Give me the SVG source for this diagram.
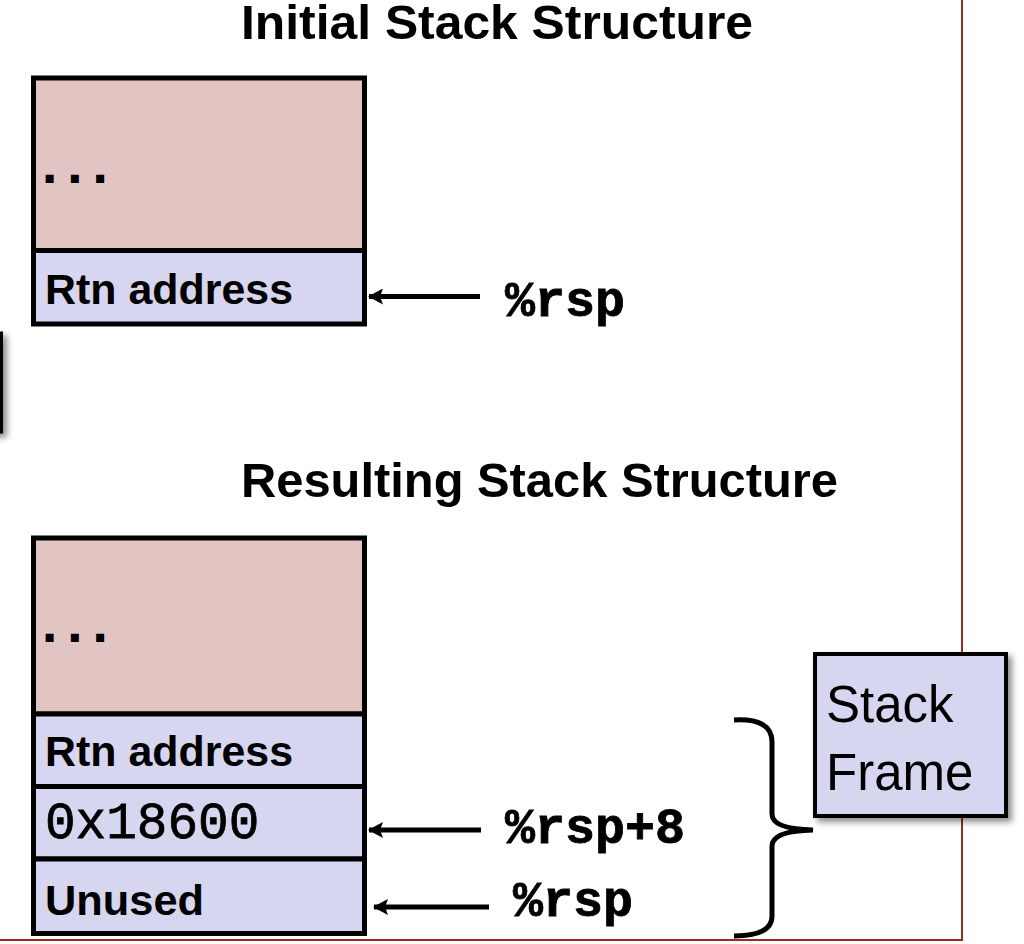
<svg xmlns="http://www.w3.org/2000/svg" width="1024" height="944" viewBox="0 0 1024 944">
<style>
.cell{stroke:#000;stroke-width:5}
.pink{fill:#E2C4C2}
.blue{fill:#D6D6F0}
.title{font-family:"Liberation Sans",Arial,sans-serif;font-weight:bold;font-size:49px;fill:#000}
.lbl{font-family:"Liberation Sans",Arial,sans-serif;font-weight:bold;font-size:42px;fill:#000}
.mono{font-family:"Liberation Mono","Courier New",monospace;font-size:51px;fill:#000;stroke:#000;stroke-width:0.8}
.reg{font-family:"Liberation Mono","Courier New",monospace;font-weight:bold;font-size:50px;fill:#000;stroke:#000;stroke-width:0.8}
.dots{font-family:"Liberation Mono","Courier New",monospace;font-weight:bold;font-size:42px;fill:#000;stroke:#000;stroke-width:2}
.sf{font-family:"Liberation Sans",Arial,sans-serif;font-size:51px;fill:#000}
.conn{stroke:#000;stroke-width:5;fill:none}
</style>
<defs>
<marker id="ah" markerUnits="userSpaceOnUse" markerWidth="16" markerHeight="16" refX="14" refY="8" orient="auto">
<path d="M0,0 L15,8 L0,16 L3,8 Z" fill="#000"/>
</marker>
<filter id="sh" x="-20%" y="-20%" width="140%" height="140%">
<feDropShadow dx="4" dy="4" stdDeviation="3" flood-color="#000" flood-opacity="0.45"/>
</filter>
</defs>
<rect width="1024" height="944" fill="#fff"/>
<g id="frame-border">
<path d="M962,0 L962,940 L0,940" fill="none" stroke="#9B2C1C" stroke-width="2"/>
</g>
<g id="left-edge-shape">
<rect x="-60" y="333" width="61.5" height="99" fill="#fff" stroke="#000" stroke-width="3" filter="url(#sh)"/>
</g>
<g id="title-initial">
<text class="title" x="241" y="39" textLength="512" lengthAdjust="spacingAndGlyphs">Initial Stack Structure</text>
</g>
<g id="title-resulting">
<text class="title" x="241" y="497" textLength="597" lengthAdjust="spacingAndGlyphs">Resulting Stack Structure</text>
</g>
<g id="init-stack">
<g id="init-dots">
<rect class="cell pink" x="33.5" y="78" width="331" height="172.5"/>
<text class="dots" x="37" y="182">...</text>
</g>
<g id="init-rtn">
<rect class="cell blue" x="33.5" y="250.5" width="331" height="73.5"/>
<text class="lbl" x="45" y="304" textLength="248" lengthAdjust="spacingAndGlyphs">Rtn address</text>
</g>
</g>
<g id="result-stack">
<g id="res-dots">
<rect class="cell pink" x="33.5" y="538" width="331" height="176"/>
<text class="dots" x="37" y="641">...</text>
</g>
<g id="res-rtn">
<rect class="cell blue" x="33.5" y="714" width="331" height="72.5"/>
<text class="lbl" x="45" y="766" textLength="248" lengthAdjust="spacingAndGlyphs">Rtn address</text>
</g>
<g id="res-addr">
<rect class="cell blue" x="33.5" y="786.5" width="331" height="72.5"/>
<text class="mono" x="45" y="838">0x18600</text>
</g>
<g id="res-unused">
<rect class="cell blue" x="33.5" y="859" width="331" height="74.5"/>
<text class="lbl" x="45" y="915" textLength="159" lengthAdjust="spacingAndGlyphs">Unused</text>
</g>
</g>
<g id="label-rsp-top">
<text class="reg" x="505" y="316">%rsp</text>
</g>
<g id="label-rsp8">
<text class="reg" x="505" y="843">%rsp+8</text>
</g>
<g id="label-rsp-bottom">
<text class="reg" x="513" y="916">%rsp</text>
</g>
<g id="stack-frame">
<rect x="815" y="654" width="191" height="162" fill="#D6D6F0" stroke="#000" stroke-width="4" filter="url(#sh)"/>
<text class="sf" x="826" y="722">Stack</text>
<text class="sf" x="826" y="790">Frame</text>
</g>
<g id="connectors">
<path class="conn" d="M480,296.5 L369,296.5" marker-end="url(#ah)"/>
<path class="conn" d="M481,830 L369,830" marker-end="url(#ah)"/>
<path class="conn" d="M489,907 L374,907" marker-end="url(#ah)"/>
<path class="conn" d="M734,720 Q772,718 772,742 L772,814 Q772,829 813,830 Q772,831 772,846 L772,916 Q772,936 734,936"/>
</g>
</svg>
